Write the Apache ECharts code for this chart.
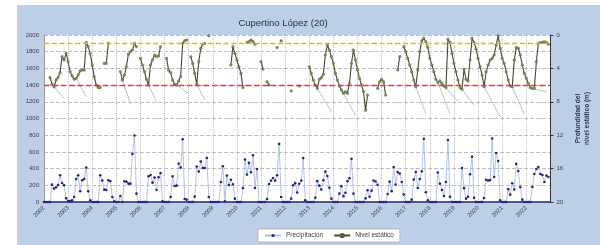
<!DOCTYPE html>
<html>
<head>
<meta charset="utf-8">
<script src="https://cdn.jsdelivr.net/npm/echarts@6/dist/echarts.min.js"></script>
<style>
  html, body { margin: 0; padding: 0; background: #fff; }
  #chart { width: 600px; height: 245px; }
</style>
</head>
<body>
<div id="chart"></div>
<script>
// años del eje x (etiquetas cada 12 meses)
const anios = [2002, 2003, 2004, 2005, 2006, 2007, 2008, 2009, 2010, 2011, 2012,
  2013, 2014, 2015, 2016, 2017, 2018, 2019, 2020, 2021, 2022];

// precipitación mensual (mm), ene..dic de cada año
const precipitacion = [
  0, 0, 0, 0, 208, 160, 176, 204, 320, 228, 200, 44,      // 2002
  12, 10, 20, 60, 276, 320, 128, 260, 276, 412, 128, 20,  // 2003
  0, 0, 0, 0, 320, 256, 148, 144, 260, 252, 60, 8,        // 2004
  0, 0, 72, 0, 248, 244, 220, 220, 576, 796, 100, 0,      // 2005
  0, 0, 0, 0, 308, 324, 232, 292, 144, 296, 348, 8,       // 2006
  0, 0, 0, 60, 308, 192, 196, 460, 412, 752, 36, 28,      // 2007
  0, 0, 0, 64, 424, 364, 484, 408, 408, 528, 60, 0,       // 2008
  0, 0, 0, 0, 240, 428, 8, 316, 204, 266, 212, 40,        // 2009
  0, 0, 0, 168, 508, 328, 468, 356, 560, 168, 396, 0,     // 2010
  0, 0, 0, 36, 216, 256, 288, 256, 320, 696, 60, 0,       // 2011
  0, 0, 0, 40, 200, 226, 114, 218, 256, 526, 20, 0,       // 2012
  0, 0, 0, 50, 250, 196, 150, 260, 364, 310, 170, 40,     // 2013
  0, 0, 0, 100, 190, 70, 110, 250, 284, 516, 100, 0,      // 2014
  0, 0, 0, 0, 44, 140, 62, 136, 258, 246, 206, 0,         // 2015
  0, 0, 0, 96, 244, 130, 420, 210, 360, 340, 240, 90,     // 2016
  0, 0, 0, 28, 268, 360, 168, 276, 368, 756, 116, 20,     // 2017
  0, 0, 0, 0, 354, 220, 144, 72, 240, 742, 62, 0,         // 2018
  0, 0, 0, 0, 406, 166, 40, 62, 332, 542, 50, 0,          // 2019
  0, 0, 0, 48, 266, 256, 262, 760, 300, 586, 490, 20,     // 2020
  0, 0, 0, 154, 88, 224, 150, 456, 370, 180, 28, 0,       // 2021
  0, 0, 0, 180, 336, 396, 420, 336, 324, 240, 316, 300    // 2022
];

// profundidad del nivel estático (m), null = sin medición
const nivel = [
  null, null, null, 5.1, 5.9, 6.2, 5.4, 5.1, 4.5, 2.6, 3.0, 2.2,
  3.2, 4.4, 4.9, 5.3, 5.2, 4.8, 4.3, 4.2, 4.2, 0.9, 1.4, 2.2,
  3.6, 5.0, 6.0, 6.3, 6.3, null, 3.4, 3.4, 1.0, null, null, null,
  null, null, 4.4, 5.4, 4.8, 3.8, 2.3, 2.0, 1.8, 1.0, 1.4, null,
  2.8, 3.6, 4.4, 5.3, 6.0, 3.6, 3.0, 2.4, 2.6, 2.5, 1.4, null,
  null, 2.8, 4.2, 4.5, 5.4, 5.9, 6.0, 5.5, 5.0, 1.0, 0.7, 0.6,
  null, 2.6, 3.4, 4.6, 5.9, 3.2, 1.6, 1.1, 1.0, null, 0.1, null,
  null, null, null, null, null, null, null, null, null, 3.6, 1.4, 2.2,
  3.0, 3.8, 4.6, 6.3, null, 0.9, 0.8, 0.6, 0.8, 1.1, null, null,
  3.2, 4.1, null, 5.6, 6.0, null, null, null, 1.5, null, 0.7, null,
  null, null, null, 6.7, null, null, null, 6.1, null, null, null, null,
  3.8, 4.6, 5.4, 6.0, 6.4, 5.3, 5.1, 4.7, 2.4, 1.2, 1.8, 2.6,
  3.4, 4.6, 5.4, 6.1, 6.6, 7.0, 6.8, 7.0, 5.8, 3.4, 1.8, 3.0,
  4.2, 5.2, 6.0, 6.8, 9.0, 7.2, null, null, null, null, 6.4, 5.6,
  5.3, 5.6, 7.2, null, null, null, null, null, 4.2, 2.6, null, 1.4,
  2.0, 2.8, 3.6, 4.4, 5.4, 6.2, 4.2, 2.0, 0.7, 0.4, 0.8, 1.5,
  2.8, 3.6, 4.4, 5.3, 5.7, 5.5, 5.8, 6.1, 6.3, 0.5, 0.9, 2.2,
  3.4, 4.4, 5.4, 6.3, 6.5, 4.1, 5.3, 5.5, 3.0, 0.4, 0.9, 1.7,
  2.8, 3.8, 4.8, 6.2, 4.4, 3.6, 3.0, 2.8, 2.4, 1.2, 0.1, 1.6,
  2.8, 3.4, 4.4, 5.4, 6.1, 6.2, 3.0, 1.5, 1.6, 2.4, 3.6, 4.6,
  5.2, 5.8, 6.3, 6.4, 6.4, 3.2, 1.0, 0.9, 0.9, 0.8, 0.9, 1.1
];

// trazos finos grises: [mes inicio, prof. inicio, mes fin, prof. fin]
const trazos = [
  [5, 6.2, 10, 7.6], [16, 5.2, 21, 7.4], [39, 5.4, 43, 8.2], [52, 6.0, 56, 8.0],
  [66, 6.0, 72, 7.0], [76, 5.9, 80, 7.8], [136, 6.4, 143, 9.2], [149, 7.0, 155, 9.6],
  [185, 6.2, 190, 9.4], [196, 5.7, 202, 9.4], [200, 6.3, 206, 8.0], [208, 6.5, 214, 8.4],
  [219, 6.2, 227, 9.8], [233, 6.2, 239, 9.5], [243, 6.4, 250, 6.8]
];

// niveles de referencia (eje izquierdo)
const lineaRoja = 1400;
const lineaAmarilla = 1900;

const meses = [];
anios.concat([2023]).forEach(function (a) {
  for (let m = 1; m <= 12; m++) meses.push(a + "-" + m);
});
meses.length = anios.length * 12 + 1;

const trazosData = [];
trazos.forEach(function (t) {
  trazosData.push([t[0], t[1]], [t[2], t[3]], [t[2], null]);
});

var chart = echarts.init(document.getElementById("chart"));
var gridColor = "#bdbdbd";
var fuente = "Liberation Sans";

var option = {
  animation: false,
  textStyle: { fontFamily: fuente },
  graphic: [
    {
      type: "rect",
      z: -10,
      shape: { x: 17, y: 5, width: 583, height: 240 },
      style: { fill: "#bdd0e8" }
    }
  ],
  title: {
    text: "Cupertino López (20)",
    left: 278,
    textAlign: "center",
    top: 13,
    textStyle: { fontSize: 9.5, fontWeight: "normal", color: "#2d2d3a", fontFamily: fuente }
  },
  legend: {
    data: ["Precipitación", "Nivel estático"],
    left: 258,
    top: 229,
    backgroundColor: "#fff",
    borderColor: "#9a9a9a",
    borderWidth: 0.6,
    borderRadius: 0,
    padding: [3, 6],
    itemWidth: 16,
    itemHeight: 4,
    itemGap: 10,
    textStyle: { fontSize: 6.5, color: "#404040", fontFamily: fuente }
  },
  grid: {
    left: 44,
    right: 37,
    top: 35,
    bottom: 43,
    show: true,
    backgroundColor: "#fff",
    borderWidth: 0
  },
  xAxis: {
    type: "category",
    data: meses,
    boundaryGap: false,
    axisLine: { lineStyle: { color: "#1c2a6b", width: 1.5 } },
    axisTick: { show: false },
    axisLabel: {
      rotate: 45,
      fontSize: 6,
      color: "#404040",
      margin: 5,
      interval: function (i) { return i % 12 === 0 && i < anios.length * 12; },
      formatter: function (v) { return v.split("-")[0]; }
    },
    splitLine: {
      show: true,
      interval: function (i) { return i % 12 === 0; },
      lineStyle: { color: gridColor, type: "dotted", width: 1 }
    }
  },
  yAxis: [
    {
      type: "value",
      min: 0,
      max: 2000,
      interval: 200,
      axisLine: { show: true, lineStyle: { color: "#9a9a9a" } },
      axisTick: { show: false },
      axisLabel: { fontSize: 6, color: "#404040", margin: 5, formatter: function (v) { return String(v); } },
      splitLine: { lineStyle: { color: gridColor, type: "dashed", width: 1 } }
    },
    {
      type: "value",
      min: 0,
      max: 20,
      interval: 4,
      inverse: true,
      position: "right",
      name: "Profundidad del\nnivel estático (m)",
      nameLocation: "middle",
      nameRotate: 90,
      nameGap: 21,
      nameTextStyle: { fontSize: 6.5, color: "#27375a", fontWeight: "bold", lineHeight: 9 },
      axisLine: { show: true, lineStyle: { color: "#333", width: 1 } },
      axisTick: { show: true, length: 3, inside: false, lineStyle: { color: "#333" } },
      axisLabel: { fontSize: 6, color: "#404040", margin: 6 },
      splitLine: { show: false }
    }
  ],
  series: [
    {
      name: "trazos",
      type: "line",
      yAxisIndex: 1,
      data: trazosData,
      symbol: "none",
      connectNulls: false,
      lineStyle: { color: "#a6a6a6", width: 0.7 },
      silent: true,
      z: 1,
      markLine: {
        silent: true,
        symbol: "none",
        label: { show: false },
        data: [
          { yAxis: (2000 - lineaAmarilla) / 100 }
        ],
        lineStyle: { color: "#e2bc00", type: "dashed", width: 1.3 }
      }
    },
    {
      name: "Precipitación",
      type: "line",
      yAxisIndex: 0,
      data: precipitacion,
      showAllSymbol: true,
      symbol: "circle",
      symbolSize: 2.6,
      itemStyle: { color: "#26267a" },
      lineStyle: { color: "#a8bce6", width: 0.9 },
      markLine: {
        silent: true,
        symbol: "none",
        label: { show: false },
        data: [
          { yAxis: lineaRoja }
        ],
        lineStyle: { color: "#e8383d", type: "dashed", width: 1.4 }
      },
      z: 3
    },
    {
      name: "Nivel estático",
      type: "line",
      yAxisIndex: 1,
      data: nivel,
      connectNulls: false,
      showAllSymbol: true,
      symbol: "circle",
      symbolSize: 2.6,
      itemStyle: { color: "#7f9362", borderColor: "#4b5a38", borderWidth: 0.4 },
      lineStyle: { color: "#3e4a30", width: 1.1 },
      z: 4
    }
  ]
};

chart.setOption(option);
</script>
</body>
</html>
